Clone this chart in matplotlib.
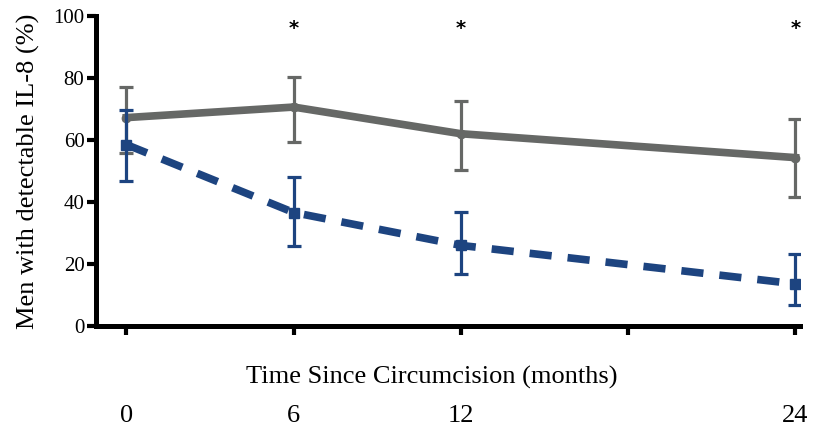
import matplotlib.pyplot as plt

plt.rcParams['font.family'] = ['Liberation Serif', 'DejaVu Serif']

months = [0, 6, 12, 24]
tick_months = [0, 6, 12, 18, 24]
tick_labels = ['0', '6', '12', '', '24']

# uncircumcised (grey, solid)
grey_mean = [67.2, 70.6, 62.0, 54.3]
grey_lo = [55.8, 59.2, 50.3, 41.5]
grey_hi = [77.2, 80.4, 72.5, 66.6]

# circumcised (blue, dashed)
blue_mean = [58.5, 36.6, 26.0, 13.6]
blue_lo = [46.9, 25.7, 16.9, 6.8]
blue_hi = [69.5, 48.0, 36.9, 23.3]

star_months = [6, 12, 24]
star_y = 96

grey = '#666866'
blue = '#1d4480'

fig = plt.figure(figsize=(8.16, 4.29), dpi=100)
ax = fig.add_axes([0.118, 0.24, 0.862, 0.723])

ax.errorbar(months, grey_mean,
            yerr=[[m - l for m, l in zip(grey_mean, grey_lo)],
                  [h - m for m, h in zip(grey_mean, grey_hi)]],
            color=grey, lw=5.5, marker='o', ms=6, elinewidth=2.3,
            capsize=5, capthick=2.3, zorder=2)
ax.errorbar(months, blue_mean,
            yerr=[[m - l for m, l in zip(blue_mean, blue_lo)],
                  [h - m for m, h in zip(blue_mean, blue_hi)]],
            color=blue, lw=5.5, ls=(0, (2.9, 2.1)), marker='s', ms=7,
            elinewidth=2.3, capsize=5, capthick=2.3, zorder=3)

for m in star_months:
    ax.text(m, star_y, '*', ha='center', va='center', fontsize=14,
            fontweight='bold', family=['DejaVu Sans'])

ax.set_xlim(-1.08, 24.15)
ax.set_ylim(0, 100)
ax.set_yticks([0, 20, 40, 60, 80, 100])
ax.set_xticks(tick_months)
ax.set_xticklabels(tick_labels)

for side in ['top', 'right']:
    ax.spines[side].set_visible(False)
for side in ['left', 'bottom']:
    ax.spines[side].set_linewidth(3.6)
    ax.spines[side].set_capstyle('projecting')

ax.tick_params(axis='both', width=3, length=6.5)
ax.tick_params(axis='x', pad=50, labelsize=19)
ax.tick_params(axis='y', pad=2, labelsize=15)

ax.set_ylabel('Men with detectable IL-8 (%)', fontsize=19)
ax.yaxis.set_label_coords(-0.08, 0.5)
ax.set_xlabel('Time Since Circumcision (months)', fontsize=19)
ax.xaxis.set_label_coords(0.477, -0.128)

fig.savefig('out.png', dpi=100)
